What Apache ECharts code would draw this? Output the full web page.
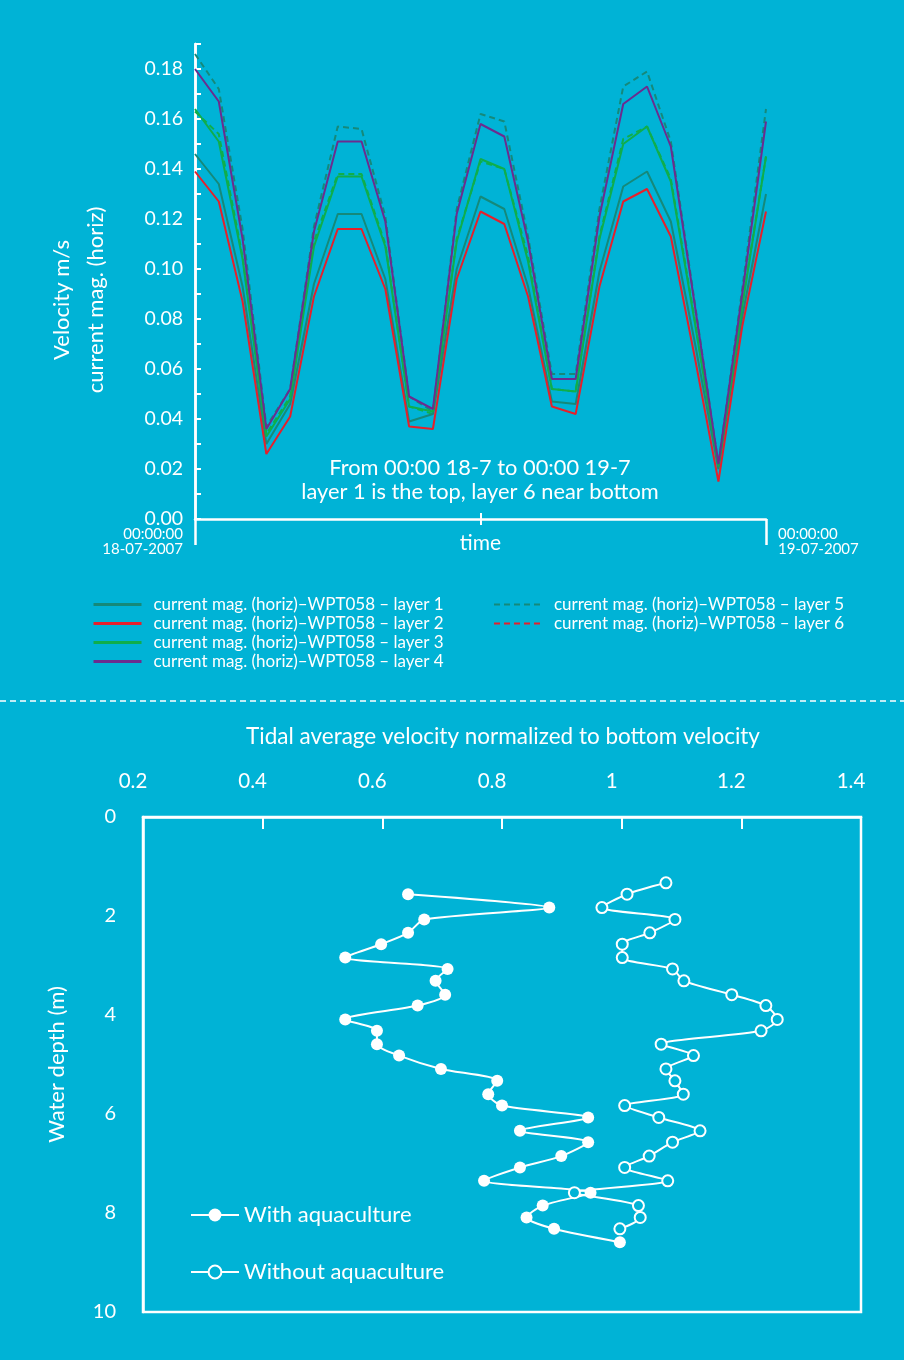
<!DOCTYPE html>
<html>
<head>
<meta charset="utf-8">
<script src="https://cdn.jsdelivr.net/npm/echarts@6/dist/echarts.min.js"></script>
<style>
html,body{margin:0;padding:0;background:#00b3d6;}
#c{width:904px;height:1360px;}
</style>
</head>
<body>
<div id="c"></div>
<script>
// ---------- Top chart data (hourly, 00:00 18-07-2007 .. 00:00 19-07-2007) ----------
const hours = [0,1,2,3,4,5,6,7,8,9,10,11,12,13,14,15,16,17,18,19,20,21,22,23,24];
const layer1 = [0.146,0.134,0.093,0.030,0.046,0.094,0.122,0.122,0.096,0.039,0.042,0.100,0.129,0.124,0.093,0.047,0.046,0.099,0.133,0.139,0.119,0.071,0.020,0.081,0.130];
const layer2 = [0.139,0.127,0.087,0.026,0.041,0.089,0.116,0.116,0.092,0.037,0.036,0.096,0.123,0.118,0.089,0.045,0.042,0.093,0.127,0.132,0.113,0.065,0.015,0.077,0.123];
const layer3 = [0.164,0.151,0.104,0.033,0.048,0.109,0.137,0.137,0.109,0.045,0.043,0.111,0.144,0.140,0.103,0.052,0.051,0.112,0.150,0.157,0.135,0.079,0.021,0.085,0.145];
const layer4 = [0.180,0.167,0.112,0.036,0.052,0.115,0.151,0.151,0.119,0.049,0.044,0.122,0.158,0.153,0.111,0.056,0.056,0.121,0.166,0.173,0.149,0.086,0.022,0.090,0.159];
const layer5 = [0.186,0.172,0.116,0.037,0.052,0.117,0.157,0.156,0.121,0.049,0.043,0.124,0.162,0.159,0.113,0.058,0.058,0.124,0.173,0.179,0.151,0.087,0.022,0.092,0.164];
const layer6 = [0.163,0.154,0.105,0.034,0.049,0.111,0.138,0.138,0.110,0.045,0.042,0.112,0.143,0.140,0.105,0.052,0.051,0.113,0.152,0.157,0.136,0.080,0.021,0.086,0.145];
const layerNames = [
  'current mag. (horiz)–WPT058 – layer 1',
  'current mag. (horiz)–WPT058 – layer 2',
  'current mag. (horiz)–WPT058 – layer 3',
  'current mag. (horiz)–WPT058 – layer 4',
  'current mag. (horiz)–WPT058 – layer 5',
  'current mag. (horiz)–WPT058 – layer 6'
];
const velTicks = [0,0.02,0.04,0.06,0.08,0.10,0.12,0.14,0.16,0.18];

// ---------- Bottom chart data ----------
const withDepth = [1.56,1.83,2.07,2.34,2.57,2.84,3.07,3.31,3.59,3.81,4.09,4.32,4.59,4.82,5.09,5.33,5.60,5.83,6.07,6.34,6.57,6.85,7.08,7.35,7.59,7.85,8.09,8.32,8.59];
const withVel   = [0.643,0.879,0.670,0.643,0.598,0.538,0.709,0.689,0.705,0.659,0.538,0.591,0.591,0.628,0.698,0.792,0.777,0.800,0.944,0.830,0.944,0.899,0.830,0.770,0.948,0.868,0.841,0.887,0.997];
const withoutDepth = [1.33,1.56,1.83,2.07,2.34,2.57,2.84,3.07,3.31,3.59,3.81,4.09,4.32,4.59,4.82,5.09,5.33,5.60,5.83,6.07,6.34,6.57,6.85,7.08,7.35,7.59,7.85,8.09,8.32];
const withoutVel   = [1.074,1.009,0.967,1.089,1.047,1.001,1.001,1.085,1.104,1.184,1.241,1.260,1.233,1.066,1.120,1.074,1.089,1.103,1.005,1.062,1.131,1.085,1.046,1.005,1.077,0.921,1.028,1.031,0.997];
const velAxisTicks = [0.2,0.4,0.6,0.8,1,1.2,1.4];
const depthTicks = [0,2,4,6,8,10];

const BG = '#00b3d6';
const W = '#ffffff';
const FONT = 'Lato';
const C_TEAL = '#15897a', C_RED = '#e5202b', C_GREEN = '#0fae4b', C_PURPLE = '#6b2c8f';

const chart = echarts.init(document.getElementById('c'), null, {renderer: 'canvas'});

function pairs(xs, ys){ return xs.map((x,i)=>[x, ys[i]]); }
function topSeries(name, data, color, dashed, z){
  return {
    name, type: 'line', xAxisIndex: 0, yAxisIndex: 0,
    data: pairs(hours, data), symbol: 'none', z: z,
    lineStyle: {color, width: 2, type: dashed ? [6,4] : 'solid'},
    itemStyle: {color}
  };
}

const option = {
  backgroundColor: BG,
  animation: false,
  textStyle: {fontFamily: FONT, color: W},
  grid: [
    {left: 195, right: 138, top: 44, bottom: 841},
    {left: 143, right: 43, top: 817, bottom: 48, show: true, borderColor: W, borderWidth: 2.5, backgroundColor: 'transparent'}
  ],
  xAxis: [
    {gridIndex: 0, type: 'value', min: 0, max: 24, position: 'bottom',
     axisLine: {lineStyle: {color: W, width: 2.5}},
     axisTick: {customValues: [12], length: 6, lineStyle: {color: W, width: 2}},
     axisLabel: {show: false}, splitLine: {show: false},
     name: 'time', nameLocation: 'middle', nameGap: 14,
     nameTextStyle: {color: W, fontSize: 21, fontFamily: FONT}},
    {gridIndex: 0, type: 'value', min: 0, max: 24, position: 'bottom',
     axisLine: {show: false},
     axisTick: {customValues: [0, 24], length: 26, lineStyle: {color: W, width: 2.5}},
     axisLabel: {customValues: [0, 24], color: W, fontSize: 15, fontFamily: FONT, margin: 8,
       lineHeight: 15, alignMinLabel: 'right', alignMaxLabel: 'left',
       formatter: v => v === 0 ? '{l|00:00:00}\n{l|18-07-2007}' : '{r|00:00:00}\n{r|19-07-2007}',
       rich: {l: {padding: [0, 12, 0, 0], fontSize: 15, lineHeight: 15, color: W, fontFamily: FONT},
              r: {padding: [0, 0, 0, 12], fontSize: 15, lineHeight: 15, color: W, fontFamily: FONT}}},
     splitLine: {show: false}},
    {gridIndex: 0, type: 'value', min: 0, max: 24, position: 'bottom',
     axisLine: {show: false},
     axisTick: {customValues: [12], inside: true, length: 6, lineStyle: {color: W, width: 2}},
     axisLabel: {show: false}, splitLine: {show: false}},
    {gridIndex: 1, type: 'value', min: 0.2, max: 1.4, interval: 0.2, position: 'top',
     axisLine: {lineStyle: {color: W, width: 2.5}},
     axisTick: {inside: true, length: 12, lineStyle: {color: W, width: 2}},
     axisLabel: {color: W, fontSize: 20.5, fontFamily: FONT, margin: 25, padding: [0, 20, 0, 0],
       formatter: v => {const r = Math.round(v*10)/10; return velAxisTicks.indexOf(r) >= 0 ? String(r) : '';}},
     splitLine: {show: false}}
  ],
  yAxis: [
    {gridIndex: 0, type: 'value', min: 0, max: 0.19, interval: 0.01,
     axisLine: {lineStyle: {color: W, width: 2.5}},
     axisTick: {inside: true, length: 6, lineStyle: {color: W, width: 2}},
     axisLabel: {color: W, fontSize: 19.5, fontFamily: FONT, margin: 12,
       formatter: v => {const r = Math.round(v*100)/100; return velTicks.some(t => Math.abs(t - r) < 1e-9) ? r.toFixed(2) : '';}},
     splitLine: {show: false}},
    {gridIndex: 0, type: 'value', min: 0, max: 0.19, position: 'right',
     axisLine: {show: true, lineStyle: {color: W, width: 2.5}},
     axisTick: {show: false}, axisLabel: {show: false}, splitLine: {show: false}},
    {gridIndex: 1, type: 'value', inverse: true, min: 0, max: 10, interval: 2,
     axisLine: {lineStyle: {color: W, width: 2.5}},
     axisTick: {show: false},
     axisLabel: {color: W, fontSize: 20, fontFamily: FONT, margin: 27,
       formatter: v => depthTicks.indexOf(v) >= 0 ? String(v) : ''},
     splitLine: {show: false},
     name: 'Water depth (m)', nameLocation: 'middle', nameGap: 75,
     nameTextStyle: {color: W, fontSize: 22, fontFamily: FONT}}
  ],
  legend: [
    {orient: 'vertical', left: 92, top: 596, padding: 0, itemWidth: 48, itemHeight: 14, itemGap: 2,
     itemStyle: {opacity: 0}, lineStyle: {width: 3},
     textStyle: {color: W, fontSize: 17, fontFamily: FONT, padding: [0, 0, 0, 7]},
     data: [layerNames[0], layerNames[1], layerNames[2], layerNames[3]]},
    {orient: 'vertical', left: 493, top: 596, padding: 0, itemWidth: 48, itemHeight: 14, itemGap: 2,
     itemStyle: {opacity: 0}, lineStyle: {width: 2},
     textStyle: {color: W, fontSize: 17, fontFamily: FONT, padding: [0, 0, 0, 7]},
     data: [layerNames[4], {name: layerNames[5], lineStyle: {color: C_RED}, itemStyle: {color: C_RED, opacity: 0}}]},
    {orient: 'vertical', left: 190, top: 1204, padding: 0, itemWidth: 48, itemHeight: 16, itemGap: 35,
     textStyle: {color: W, fontSize: 22, fontFamily: FONT},
     data: ['With aquaculture', 'Without aquaculture']}
  ],
  graphic: [
    {type: 'text', x: 79, y: 300, rotation: Math.PI/2,
     style: {text: 'Velocity m/s\ncurrent mag. (horiz)', fill: W, font: '22px ' + FONT,
       textAlign: 'center', textVerticalAlign: 'middle', lineHeight: 34}},
    {type: 'text', x: 480, y: 480,
     style: {text: 'From 00:00 18-7 to 00:00 19-7\nlayer 1 is the top, layer 6 near bottom', fill: W, font: '21.8px ' + FONT,
       textAlign: 'center', textVerticalAlign: 'middle', lineHeight: 24}},
    {type: 'line', shape: {x1: 0, y1: 701, x2: 904, y2: 701},
     style: {stroke: W, lineWidth: 1.5, lineDash: [6, 4]}},
    {type: 'text', x: 503, y: 737,
     style: {text: 'Tidal average velocity normalized to bottom velocity', fill: W, font: '22.5px ' + FONT,
       textAlign: 'center', textVerticalAlign: 'middle'}}
  ],
  series: [
    topSeries(layerNames[4], layer5, C_TEAL, true, 2),
    topSeries(layerNames[5], layer6, C_GREEN, true, 2),
    topSeries(layerNames[0], layer1, C_TEAL, false, 3),
    topSeries(layerNames[1], layer2, C_RED, false, 3),
    topSeries(layerNames[2], layer3, C_GREEN, false, 3),
    topSeries(layerNames[3], layer4, C_PURPLE, false, 4),
    {name: 'With aquaculture', type: 'line', xAxisIndex: 3, yAxisIndex: 2,
     data: pairs(withVel, withDepth), smooth: 0.25, symbol: 'circle', symbolSize: 12,
     lineStyle: {color: W, width: 2}, itemStyle: {color: W}, z: 5},
    {name: 'Without aquaculture', type: 'line', xAxisIndex: 3, yAxisIndex: 2,
     data: pairs(withoutVel, withoutDepth), smooth: 0.25, symbol: 'circle', symbolSize: 11,
     lineStyle: {color: W, width: 2}, itemStyle: {color: BG, borderColor: W, borderWidth: 2}, z: 5}
  ]
};
chart.setOption(option);
</script>
</body>
</html>
